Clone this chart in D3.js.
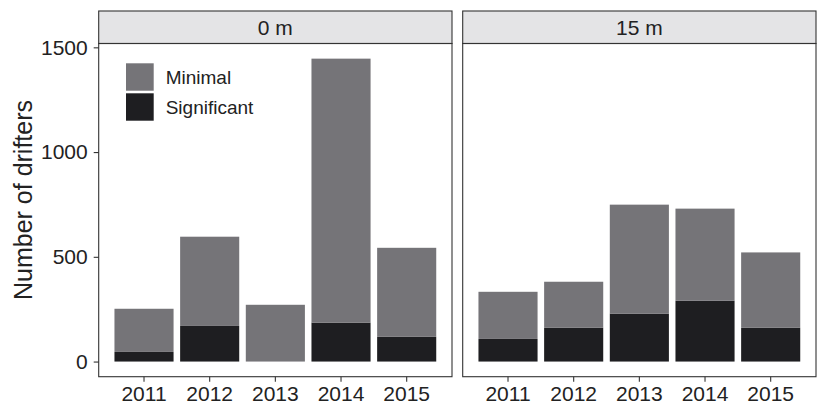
<!DOCTYPE html>
<html>
<head>
<meta charset="utf-8">
<script src="https://cdn.jsdelivr.net/npm/d3@7"></script>
<style>
  html, body { margin: 0; padding: 0; background: #ffffff; }
  svg { display: block; font-family: "Liberation Sans", Arial, Helvetica, sans-serif; }
</style>
</head>
<body>
<svg id="chart" width="817" height="406"></svg>
<script>
// Drifter counts per year, split by depth panel and by category
const years = ["2011", "2012", "2013", "2014", "2015"];
const depths = ["0 m", "15 m"];
const categories = ["Significant", "Minimal"];
const legendOrder = ["Minimal", "Significant"];

// Significant drifters (bottom of each stack)
const significant0m = [46, 170, 0, 186, 118];
const significant15m = [108, 161, 229, 290, 161];
// Minimal drifters (stacked on top)
const minimal0m = [206, 426, 271, 1260, 425];
const minimal15m = [225, 220, 520, 440, 360];

const yTicks = [0, 500, 1000, 1500];

const colors = { Minimal: "#757478", Significant: "#1e1e21" };
const textColor = "#222222";
const frameColor = "#333333";

const panels = [
  { label: depths[0], significant: significant0m, minimal: minimal0m, x0: 98.7, x1: 452 },
  { label: depths[1], significant: significant15m, minimal: minimal15m, x0: 462.7, x1: 816 }
];

const stripTop = 11, stripBottom = 43.5, plotBottom = 376.7;

const svg = d3.select("#chart");

// Shared y scale with 5% expansion on each end
const maxTotal = d3.max(panels, p => d3.max(years, (_, i) => p.significant[i] + p.minimal[i]));
const pad = maxTotal * 0.05;
const y = d3.scaleLinear().domain([-pad, maxTotal + pad]).range([plotBottom, stripBottom]);

panels.forEach((p, pi) => {
  const x = d3.scaleBand()
    .domain(years)
    .range([p.x0, p.x1])
    .paddingInner(0.1)
    .paddingOuter(0.24);

  const rows = years.map((yr, i) => ({ year: yr, Significant: p.significant[i], Minimal: p.minimal[i] }));
  const stacked = d3.stack().keys(categories)(rows);

  const g = svg.append("g");

  // Strip header
  g.append("rect")
    .attr("x", p.x0).attr("y", stripTop)
    .attr("width", p.x1 - p.x0).attr("height", stripBottom - stripTop)
    .attr("fill", "#e4e4e6").attr("stroke", frameColor).attr("stroke-width", 1.1);
  g.append("text")
    .attr("x", (p.x0 + p.x1) / 2).attr("y", 34.5)
    .attr("text-anchor", "middle")
    .attr("font-size", 21).attr("fill", textColor)
    .text(p.label);

  // Bars
  stacked.forEach(layer => {
    g.append("g").selectAll("rect")
      .data(layer)
      .join("rect")
      .attr("x", d => x(d.data.year))
      .attr("width", x.bandwidth())
      .attr("y", d => y(d[1]))
      .attr("height", d => y(d[0]) - y(d[1]))
      .attr("fill", colors[layer.key]);
  });

  // Panel frame
  g.append("rect")
    .attr("x", p.x0).attr("y", stripBottom)
    .attr("width", p.x1 - p.x0).attr("height", plotBottom - stripBottom)
    .attr("fill", "none").attr("stroke", frameColor).attr("stroke-width", 1.1);

  // X axis
  const xAxis = g.append("g")
    .attr("transform", `translate(0,${plotBottom})`)
    .call(d3.axisBottom(x).tickSize(5).tickPadding(4));
  xAxis.select(".domain").remove();
  xAxis.selectAll(".tick line").attr("stroke", frameColor).attr("stroke-width", 1.1);
  xAxis.selectAll(".tick text")
    .attr("font-size", 21).attr("fill", textColor)
    .attr("font-family", "Liberation Sans, Arial, sans-serif");

  // Y axis on the first panel only
  if (pi === 0) {
    const yAxis = g.append("g")
      .attr("transform", `translate(${p.x0},0)`)
      .call(d3.axisLeft(y).tickValues(yTicks).tickFormat(d3.format("d")).tickSize(5).tickPadding(6));
    yAxis.select(".domain").remove();
    yAxis.selectAll(".tick line").attr("stroke", frameColor).attr("stroke-width", 1.1);
    yAxis.selectAll(".tick text")
      .attr("font-size", 21).attr("fill", textColor)
      .attr("font-family", "Liberation Sans, Arial, sans-serif");

    // Legend inside the first panel
    const legend = g.append("g");
    legendOrder.forEach((key, i) => {
      legend.append("rect")
        .attr("x", 126).attr("y", 63.3 + i * 30)
        .attr("width", 27.7).attr("height", 27.4)
        .attr("fill", colors[key]);
      legend.append("text")
        .attr("x", 165.7).attr("y", 83.5 + i * 30)
        .attr("font-size", 19).attr("fill", textColor)
        .text(key);
    });
  }
});

// Y axis title
svg.append("text")
  .attr("transform", "translate(32,200) rotate(-90)")
  .attr("text-anchor", "middle")
  .attr("font-size", 25).attr("fill", textColor)
  .text("Number of drifters");
</script>
</body>
</html>
